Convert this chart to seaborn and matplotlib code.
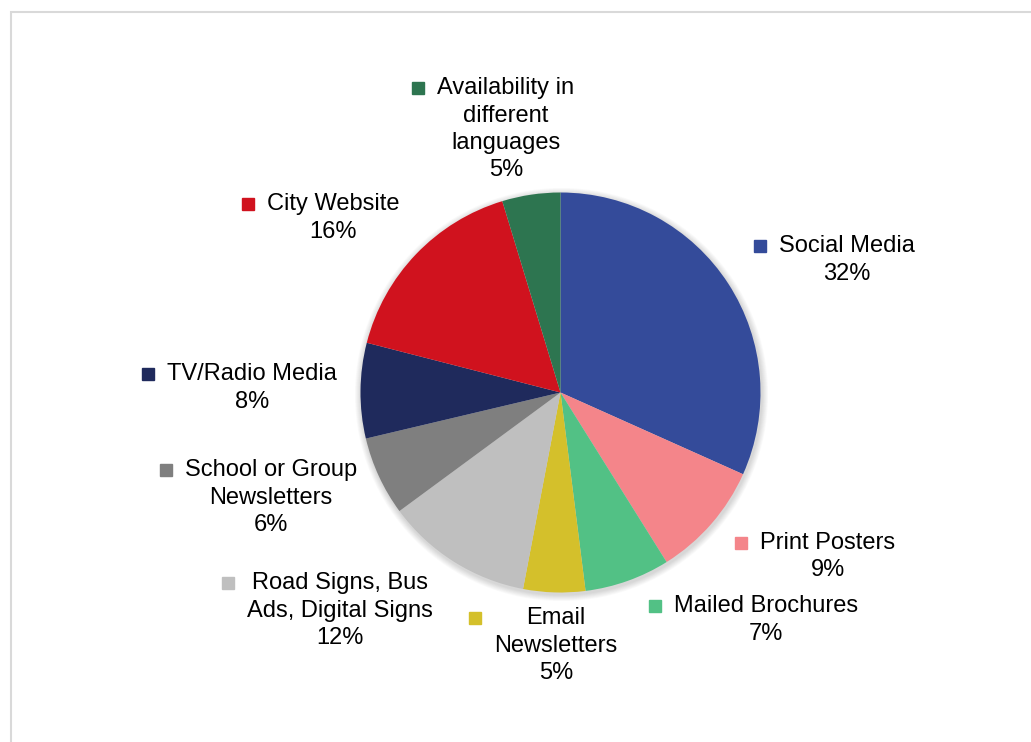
import matplotlib
matplotlib.use("Agg")
import matplotlib.pyplot as plt
import seaborn as sns
from matplotlib.patches import Rectangle, Circle

sns.set_theme(style="white")
plt.rcParams['font.family'] = ['Liberation Sans', 'DejaVu Sans']

categories = ["Social Media", "Print Posters", "Mailed Brochures", "Email\nNewsletters",
              "Road Signs, Bus\nAds, Digital Signs", "School or Group\nNewsletters",
              "TV/Radio Media", "City Website", "Availability in\ndifferent\nlanguages"]
values = [31.7, 9.4, 6.9, 5.0, 11.9, 6.4, 7.7, 16.3, 4.7]
colors = ["#344B9A", "#F4858A", "#52C185", "#D4C02B", "#BFBFBF",
          "#7F7F7F", "#1F2A5C", "#D0121E", "#2D7550"]

# label block centre x and first-line y, in pixel layout coords (y from top)
label_pos = [(847, 246), (828, 543), (766, 606), (556, 618), (340, 583),
             (271, 470), (252, 374), (333, 204), (506, 88)]

W, H = 1031, 742
fig = plt.figure(figsize=(W / 100, H / 100), dpi=100)
ax = fig.add_axes([0, 0, 1, 1])

cx, cy, r = 560.5, H - 392.5, 200

# soft shadow
for i in range(8):
    ax.add_patch(Circle((cx + 1, cy - 2), r + 1 + i * 0.8, color='black',
                        alpha=0.018, lw=0, zorder=0))

ax.pie(values, colors=colors, startangle=90, counterclock=False,
       center=(cx, cy), radius=r, frame=True,
       wedgeprops=dict(linewidth=0, antialiased=True))
ax.set_xlim(0, W)
ax.set_ylim(0, H)
ax.set_aspect('equal')
ax.axis('off')

fs = 17
line_h = 27.5
fig.canvas.draw()
renderer = fig.canvas.get_renderer()
for cat, val, col, (lx, ly) in zip(categories, values, colors, label_pos):
    lines = cat.split("\n") + [f"{val:.0f}%"]
    maxw = 0
    for k, ln in enumerate(lines):
        t = ax.text(lx, H - ly - k * line_h, ln, ha='center', va='center',
                    fontsize=fs, color='#000000')
        maxw = max(maxw, t.get_window_extent(renderer).width)
    ax.plot([lx - maxw / 2 - 19], [H - ly], marker='s', markersize=9,
            color=col, linestyle='none')

# outer border (partially cropped)
fig.patches.append(Rectangle((10.5 / W, -0.1), 1.2, (H - 11.5) / H + 0.1,
                             transform=fig.transFigure, fill=False,
                             edgecolor='#D9D9D9', linewidth=1.5))

fig.savefig("out.png", dpi=100, facecolor='white')
